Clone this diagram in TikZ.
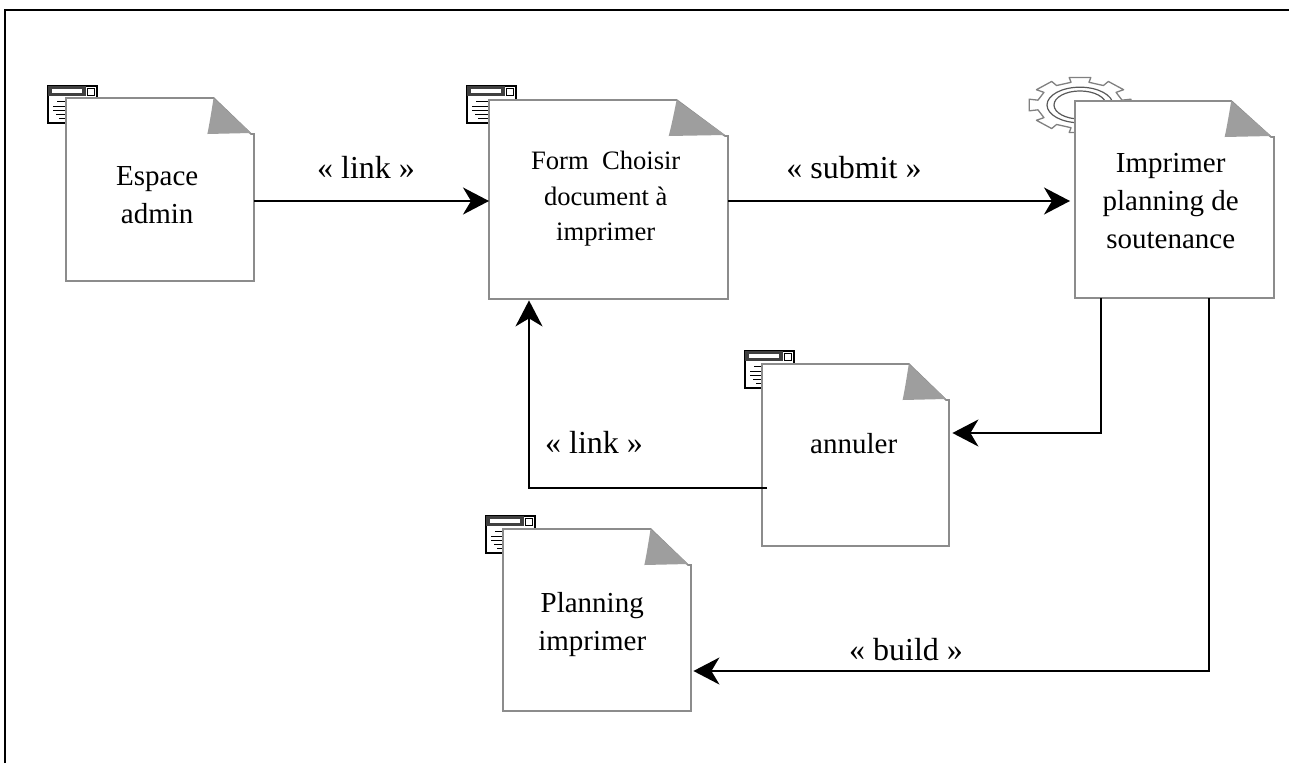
\documentclass[tikz,border=0pt]{standalone}
\usepackage{fontspec}
\setmainfont{Liberation Serif}
\usetikzlibrary{arrows.meta,calc}
\definecolor{edgegrey}{gray}{0.55}
\definecolor{foldgrey}{gray}{0.62}
\tikzset{
  x=1pt,y=-1pt,
  doctext/.style={font=\fontsize{29}{38}\selectfont,align=center,inner sep=0pt},
  smalltext/.style={font=\fontsize{26.6}{35.5}\selectfont,align=center,inner sep=0pt},
  lab/.style={font=\fontsize{32}{36}\selectfont,inner sep=0pt,anchor=base},
  conn/.style={line width=1.9pt,black},
  arr/.style={conn,-{Stealth[length=26pt,width=27pt,inset=8pt]}},
  iconline/.style={line width=1pt,black},
}
\newcommand{\winicon}[2]{%
  \begin{scope}[shift={(#1,#2)}]
    \draw[line width=1.4pt,fill=white] (0,0) rectangle (49,37);
    \fill[black!75] (0,0) rectangle (38,10);
    \fill[white] (4,3) rectangle (34,7);
    \draw[line width=1pt,fill=white] (39,2) rectangle (46,9);
    \draw[iconline] (9,15) -- (24,15) (5,20) -- (24,20) (5,24) -- (24,24) (8,28) -- (24,28) (11,32) -- (24,32);
  \end{scope}}
% #1 name, #2,#3 top-left, #4 w, #5 h, #6 style, #7 text, #8 dx, #9 dy of text
\newcommand{\pageshape}[9]{%
  \path[fill=white,draw=edgegrey,line width=1.7pt]
    (#2,#3) -- (#2+#4*0.785,#3) -- (#2+#4-3,#3+36) -- (#2+#4,#3+36) -- (#2+#4,#3+#5) -- (#2,#3+#5) -- cycle;
  \fill[foldgrey] (#2+#4*0.785,#3) .. controls (#2+#4*0.775,#3+12) and (#2+#4*0.765,#3+24) .. (#2+#4*0.752,#3+36) -- (#2+#4-3,#3+35) -- cycle;
  \node[minimum width=#4,minimum height=#5,inner sep=0pt,anchor=north west] (#1) at (#2,#3) {};
  \node[#6] (#1text) at ($(#1.center)+(#8,#9)$) {#7};}
\begin{document}
\begin{tikzpicture}
\useasboundingbox (0,0) rectangle (1289,763);
\draw[line width=2pt] (5,763) -- (5,10) -- (1289,10);
% gear
\begin{scope}[shift={(1080,105)},yscale=0.54]
  \draw[black!50,line width=1.3pt,line join=round] plot coordinates {
    (-12:43)(-12:52)(12:52)(12:43)(33:43)(33:52)(57:52)(57:43)(78:43)(78:52)(102:52)(102:43)(123:43)(123:52)(147:52)(147:43)(168:43)(168:52)(192:52)(192:43)(213:43)(213:52)(237:52)(237:43)(258:43)(258:52)(282:52)(282:43)(303:43)(303:52)(327:52)(327:43)(348:43)};
  \draw[black!65,line width=1.2pt] (0,0) circle (33) (0,0) circle (26);
\end{scope}
\winicon{48}{86}
\winicon{467}{86}
\winicon{745}{351}
\winicon{486}{516}
\pageshape{espace}{66}{98}{188}{183}{doctext}{Espace\\admin}{-3}{5}
\pageshape{form}{489}{100}{239}{199}{smalltext}{Form\ \ Choisir\\document à\\imprimer}{-3}{-1}
\pageshape{impr}{1075}{101}{199}{197}{doctext}{Imprimer\\planning de\\soutenance}{-4}{1}
\pageshape{annul}{762}{364}{187}{182}{doctext}{annuler}{-2}{-12}
\pageshape{plan}{503}{529}{188}{182}{doctext}{Planning\\imprimer}{-5}{4}
\draw[arr] ($(espace.north east)+(0,103)$) -- ($(form.north west)+(0,101)$);
\draw[arr] ($(form.north east)+(0,101)$) -- ($(impr.north west)+(-5,100)$);
\draw[arr] ($(impr.south west)+(26,0)$) |- ($(annul.north east)+(3,69)$);
\draw[arr] ($(impr.south west)+(134,0)$) |- ($(plan.north east)+(2,142)$);
\draw[arr] ($(annul.north west)+(5,124)$) -| ($(form.south west)+(40,1)$);
\node[lab] (l1) at (366,178) {« link »};
\node[lab] (l2) at (854,178) {« submit »};
\node[lab] (l3) at (594,453) {« link »};
\node[lab] (l4) at (906,660) {« build »};
\end{tikzpicture}
\end{document}
